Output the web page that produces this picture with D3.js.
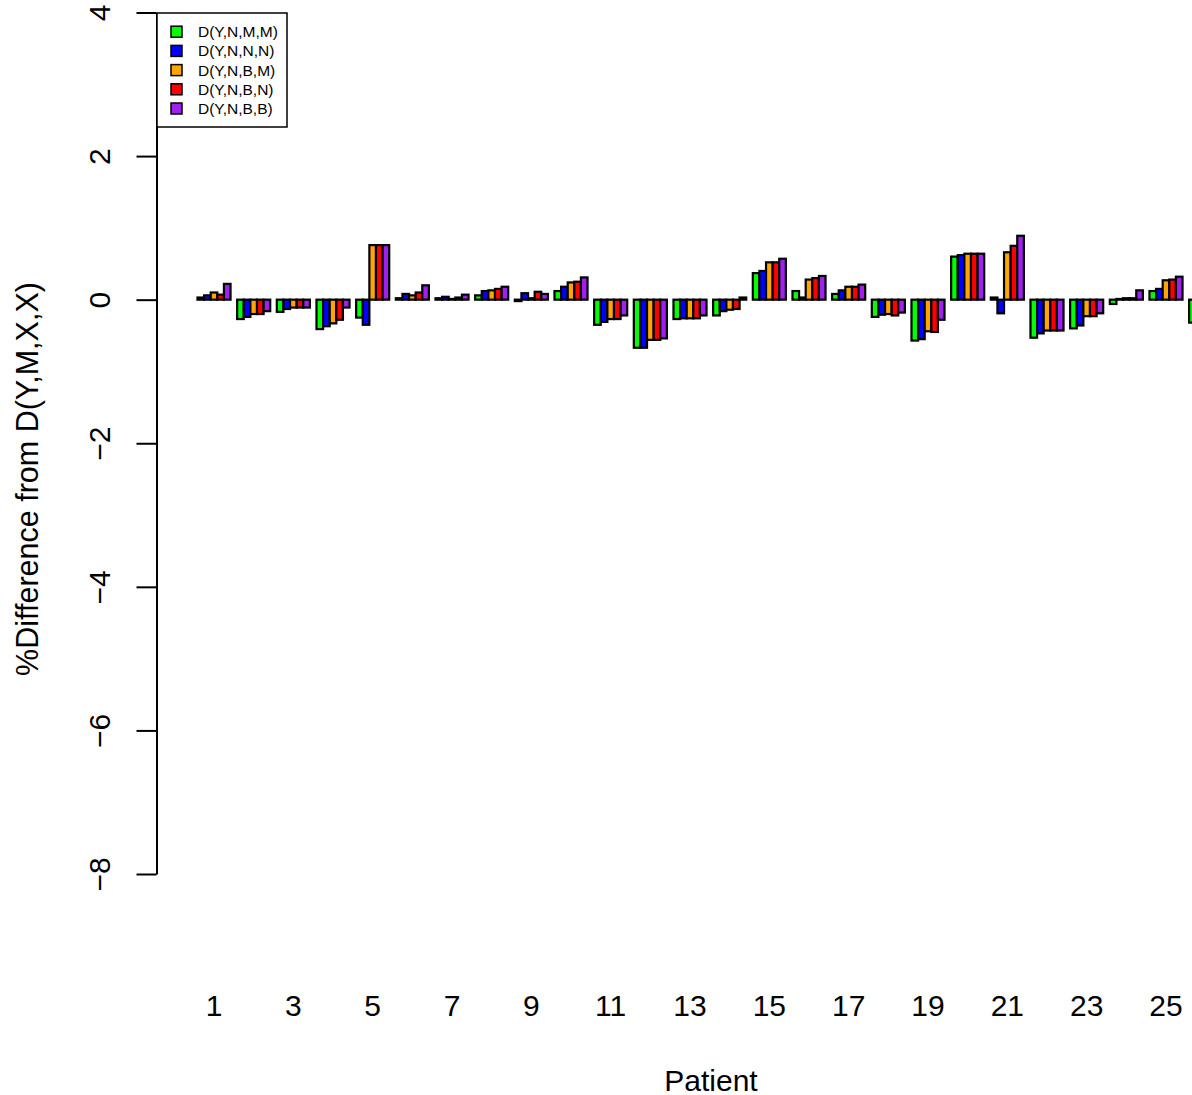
<!DOCTYPE html>
<html>
<head>
<meta charset="utf-8">
<script src="https://cdn.jsdelivr.net/npm/d3@7"></script>
<style>
  body { margin: 0; background: #fff; }
  svg { display: block; font-family: "Liberation Sans", Arial, Helvetica, sans-serif; }
</style>
</head>
<body>
<svg id="chart" width="1192" height="1095"></svg>
<script>
const patients = d3.range(1, 27);
const seriesNames = ["D(Y,N,M,M)", "D(Y,N,N,N)", "D(Y,N,B,M)", "D(Y,N,B,N)", "D(Y,N,B,B)"];
const seriesColors = ["#00FF00", "#0000FF", "#FFA500", "#FF0000", "#A020F0"];
const sNMM = [0.03, -0.27, -0.17, -0.41, -0.25, 0.02, 0.02, 0.06, -0.02, 0.12, -0.35, -0.67, -0.27, -0.22, 0.37, 0.12, 0.08, -0.24, -0.57, 0.60, 0.03, -0.53, -0.40, -0.06, 0.12, -0.32];
const sNNN = [0.06, -0.24, -0.13, -0.37, -0.35, 0.08, 0.04, 0.12, 0.09, 0.18, -0.31, -0.67, -0.26, -0.16, 0.40, 0.03, 0.13, -0.21, -0.55, 0.62, -0.19, -0.47, -0.36, 0.01, 0.15, null];
const sNBM = [0.10, -0.20, -0.11, -0.33, 0.76, 0.06, 0.01, 0.13, 0.02, 0.24, -0.27, -0.56, -0.26, -0.14, 0.52, 0.28, 0.18, -0.20, -0.44, 0.64, 0.66, -0.43, -0.23, 0.02, 0.27, null];
const sNBN = [0.07, -0.20, -0.11, -0.28, 0.76, 0.10, 0.03, 0.15, 0.11, 0.25, -0.27, -0.56, -0.26, -0.13, 0.52, 0.30, 0.18, -0.22, -0.45, 0.64, 0.75, -0.43, -0.23, 0.02, 0.28, null];
const sNBB = [0.22, -0.16, -0.11, -0.11, 0.76, 0.20, 0.07, 0.18, 0.08, 0.31, -0.22, -0.54, -0.22, 0.03, 0.57, 0.33, 0.21, -0.18, -0.28, 0.64, 0.89, -0.43, -0.19, 0.13, 0.32, null];
const seriesValues = [sNMM, sNNN, sNBM, sNBN, sNBB];
const yTicks = [-8, -6, -4, -2, 0, 2, 4];
const xTickLabels = [1, 3, 5, 7, 9, 11, 13, 15, 17, 19, 21, 23, 25];

const svg = d3.select("#chart");
const unitPx = 6.611;
const plotLeft = 156.5;
const units = d3.scaleLinear().domain([-5.2, 0]).range([plotLeft, plotLeft + 5.2 * unitPx]);
const xGroup = d3.scaleBand().domain(patients).range([units(0), units(156)]).padding(0);
const xInner = d3.scaleBand().domain(["gap"].concat(seriesNames)).range([0, xGroup.bandwidth()]).padding(0);
const y = d3.scaleLinear().domain([-8, 4]).range([874, 12.5]);

// bars
const bars = [];
patients.forEach((p, i) => {
  seriesNames.forEach((s, j) => {
    const v = seriesValues[j][i];
    if (v !== null && v !== undefined) bars.push({ p, s, v, c: seriesColors[j] });
  });
});
svg.append("g").selectAll("rect").data(bars).join("rect")
  .attr("x", d => xGroup(d.p) + xInner(d.s))
  .attr("width", xInner.bandwidth())
  .attr("y", d => y(Math.max(0, d.v)))
  .attr("height", d => Math.abs(y(d.v) - y(0)))
  .attr("fill", d => d.c)
  .attr("stroke", "#000")
  .attr("stroke-width", 2.2);

// y axis
const yAxis = d3.axisLeft(y).tickValues(yTicks).tickSize(20).tickSizeOuter(0)
  .tickFormat(d => String(d).replace("-", "\u2212"));
const gy = svg.append("g").attr("transform", `translate(${plotLeft},0)`).call(yAxis);
gy.select(".domain").attr("stroke", "#000").attr("stroke-width", 2);
gy.selectAll(".tick line").attr("stroke", "#000").attr("stroke-width", 2);
gy.selectAll(".tick text")
  .attr("x", null).attr("dy", null)
  .attr("transform", "translate(-57,0) rotate(-90)")
  .attr("text-anchor", "middle")
  .attr("dominant-baseline", "central")
  .attr("font-size", 30)
  .attr("fill", "#000")
  .attr("font-family", "'Liberation Sans', Arial, sans-serif");

// x labels
const gx = svg.append("g");
gx.selectAll("text").data(xTickLabels).join("text")
  .attr("x", d => xGroup(d) + xInner("D(Y,N,B,M)") + xInner.bandwidth() / 2)
  .attr("y", 1005)
  .attr("text-anchor", "middle")
  .attr("dominant-baseline", "central")
  .attr("font-size", 30)
  .text(d => d);

// axis titles
svg.append("text")
  .attr("x", 711).attr("y", 1080)
  .attr("text-anchor", "middle").attr("dominant-baseline", "central")
  .attr("font-size", 30)
  .text("Patient");
svg.append("text")
  .attr("transform", "translate(27,479) rotate(-90)")
  .attr("text-anchor", "middle").attr("dominant-baseline", "central")
  .attr("font-size", 30.5)
  .text("%Difference from D(Y,M,X,X)");

// legend
const lg = svg.append("g");
lg.append("rect").attr("x", 157).attr("y", 13).attr("width", 130).attr("height", 114)
  .attr("fill", "#fff").attr("stroke", "#000").attr("stroke-width", 1.5);
const legendY = d3.scalePoint().domain(seriesNames).range([31.7, 108.5]);
lg.selectAll("rect.key").data(seriesNames).join("rect").attr("class", "key")
  .attr("x", 171).attr("y", d => legendY(d) - 5.5)
  .attr("width", 11).attr("height", 11)
  .attr("fill", (d, i) => seriesColors[i])
  .attr("stroke", "#000").attr("stroke-width", 1.5);
lg.selectAll("text").data(seriesNames).join("text")
  .attr("x", 198).attr("y", d => legendY(d))
  .attr("dominant-baseline", "central")
  .attr("font-size", 15.5)
  .text(d => d);
</script>
</body>
</html>
